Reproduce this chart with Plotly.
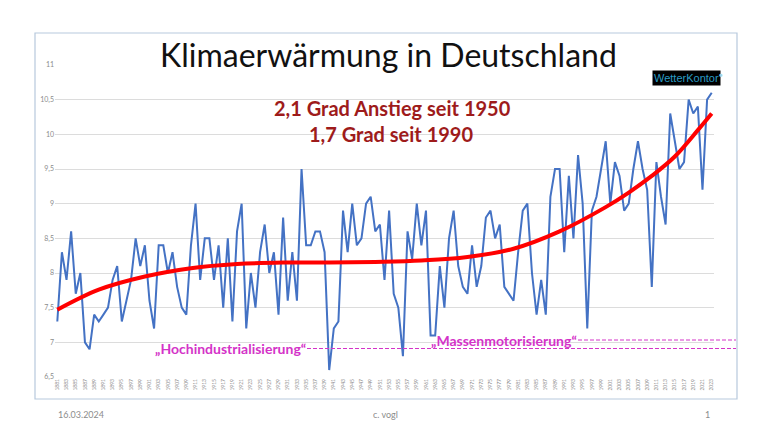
import plotly.graph_objects as go

# Jahresmitteltemperatur Deutschland (Grad C)
years = list(range(1881, 2024))
temps = [
    7.3, 8.3, 7.9, 8.6, 7.7, 8.0, 7.0, 6.9, 7.4,            # 1881-1889
    7.3, 7.4, 7.5, 7.9, 8.1, 7.3, 7.6, 7.9, 8.5, 8.1,       # 1890-1899
    8.4, 7.6, 7.2, 8.4, 8.4, 8.0, 8.3, 7.8, 7.5, 7.4,       # 1900-1909
    8.4, 9.0, 7.9, 8.5, 8.5, 7.9, 8.4, 7.5, 8.5, 7.3,       # 1910-1919
    8.6, 9.0, 7.2, 8.0, 7.5, 8.3, 8.7, 8.0, 8.3, 7.4,       # 1920-1929
    8.8, 7.6, 8.3, 7.6, 9.5, 8.4, 8.4, 8.6, 8.6, 8.3,       # 1930-1939
    6.6, 7.2, 7.3, 8.9, 8.3, 9.0, 8.4, 8.5, 9.0, 9.1,       # 1940-1949
    8.6, 8.7, 7.9, 8.9, 7.7, 7.5, 6.8, 8.6, 8.2, 9.0,       # 1950-1959
    8.4, 8.9, 7.1, 7.1, 8.1, 7.5, 8.5, 8.9, 8.1, 7.8,       # 1960-1969
    7.7, 8.4, 7.8, 8.1, 8.8, 8.9, 8.5, 8.7, 7.8, 7.7,       # 1970-1979
    7.6, 8.3, 8.9, 9.0, 8.0, 7.4, 7.9, 7.4, 9.1, 9.5,       # 1980-1989
    9.5, 8.3, 9.4, 8.5, 9.7, 9.0, 7.2, 8.9, 9.1, 9.5,       # 1990-1999
    9.9, 9.0, 9.6, 9.4, 8.9, 9.0, 9.5, 9.9, 9.5, 9.2,       # 2000-2009
    7.8, 9.6, 9.1, 8.7, 10.3, 9.9, 9.5, 9.6, 10.5, 10.3,    # 2010-2019
    10.4, 9.2, 10.5, 10.6,                                  # 2020-2023
]

trend_years = [1881, 1890, 1900, 1910, 1920, 1930, 1940, 1950, 1960,
               1970, 1980, 1990, 2000, 2005, 2010, 2015, 2020, 2023]
trend_vals = [7.47, 7.76, 7.95, 8.07, 8.13, 8.15, 8.15, 8.16, 8.18,
              8.23, 8.35, 8.60, 8.95, 9.16, 9.40, 9.68, 10.06, 10.30]

tick_years = list(range(1881, 2024, 2))
y_ticks = [6.5, 7, 7.5, 8, 8.5, 9, 9.5, 10, 10.5, 11]

# die Seite hat 8px Rand -> Figur etwas kleiner, Koordinaten verschoben
OFF = 8
W, H = 768 - OFF, 432 - OFF
ML, MR, MT, MB = 55 - OFF, 54, 65 - OFF, 55


def px(x):
    return (x - OFF - ML) / (W - ML - MR)


def py(y):
    return (H - MB - (y - OFF)) / (H - MT - MB)


fig = go.Figure()

fig.add_trace(go.Scatter(
    x=years, y=temps, mode="lines",
    line=dict(color="#4472c4", width=2),
    hoverinfo="x+y", showlegend=False,
))
fig.add_trace(go.Scatter(
    x=trend_years, y=trend_vals, mode="lines",
    line=dict(color="#ff0000", width=4, shape="spline", smoothing=1.0),
    hoverinfo="skip", showlegend=False,
))

font = "Lato, 'Open Sans', sans-serif"
magenta = "#d433c8"

shapes = [
    # Rahmen um das Diagramm
    dict(type="rect", xref="paper", yref="paper",
         x0=px(35), x1=px(737), y0=py(399), y1=py(33),
         line=dict(color="#b7c9dd", width=1.2)),
    # gestrichelte Linien
    dict(type="line", xref="paper", yref="paper",
         x0=px(307), x1=px(736), y0=py(348.5), y1=py(348.5),
         line=dict(color=magenta, width=1, dash="4px,2px")),
    dict(type="line", xref="paper", yref="paper",
         x0=px(578), x1=px(736), y0=py(340), y1=py(340),
         line=dict(color=magenta, width=1, dash="4px,2px")),
]

annotations = [
    dict(text="Klimaerwärmung in Deutschland", x=px(388), y=py(55),
         font=dict(family=font, size=32, color="#111111")),
    dict(text="<b>2,1 Grad Anstieg seit 1950</b>", x=px(392), y=py(108),
         font=dict(family=font, size=20, color="#9e1b1b")),
    dict(text="<b>1,7 Grad seit 1990</b>", x=px(391), y=py(134),
         font=dict(family=font, size=20, color="#9e1b1b")),
    dict(text="<b>„Hochindustrialisierung“</b>", x=px(230), y=py(348),
         font=dict(family=font, size=14, color=magenta)),
    dict(text="<b>„Massenmotorisierung“</b>", x=px(504), y=py(340),
         font=dict(family=font, size=14, color=magenta)),
    dict(text="WetterKontor", x=px(686), y=py(78.5), bgcolor="#000000",
         borderpad=1, font=dict(family="'Liberation Sans', sans-serif", size=11, color="#2b9cc4")),
    dict(text="●", x=px(721), y=py(74),
         font=dict(family=font, size=6, color="#9fd4ea")),
    dict(text="16.03.2024", x=px(81), y=py(414),
         font=dict(family=font, size=9, color="#8c8c8c")),
    dict(text="c. vogl", x=px(385), y=py(414),
         font=dict(family=font, size=9, color="#8c8c8c")),
    dict(text="1", x=px(707), y=py(414),
         font=dict(family=font, size=9, color="#8c8c8c")),
]
for a in annotations:
    a.update(xref="paper", yref="paper", showarrow=False,
             xanchor="center", yanchor="middle")

fig.update_layout(
    width=W, height=H,
    margin=dict(l=ML, r=MR, t=MT, b=MB),
    paper_bgcolor="white", plot_bgcolor="white",
    separators=",.",
    shapes=shapes,
    annotations=annotations,
    xaxis=dict(
        range=[1880.5, 2023.5],
        tickmode="array", tickvals=tick_years,
        ticktext=[str(y) for y in tick_years],
        tickangle=-90, tickfont=dict(family=font, size=5, color="#8c8c8c"),
        showgrid=False, zeroline=False,
        showline=False, ticks="",
    ),
    yaxis=dict(
        range=[6.5, 11],
        tickmode="array", tickvals=y_ticks,
        tickfont=dict(family=font, size=7, color="#8c8c8c"),
        showgrid=True, gridcolor="#dcdcdc", gridwidth=1,
        zeroline=False, showline=False, ticks="",
    ),
)

fig.write_html("out.html")
